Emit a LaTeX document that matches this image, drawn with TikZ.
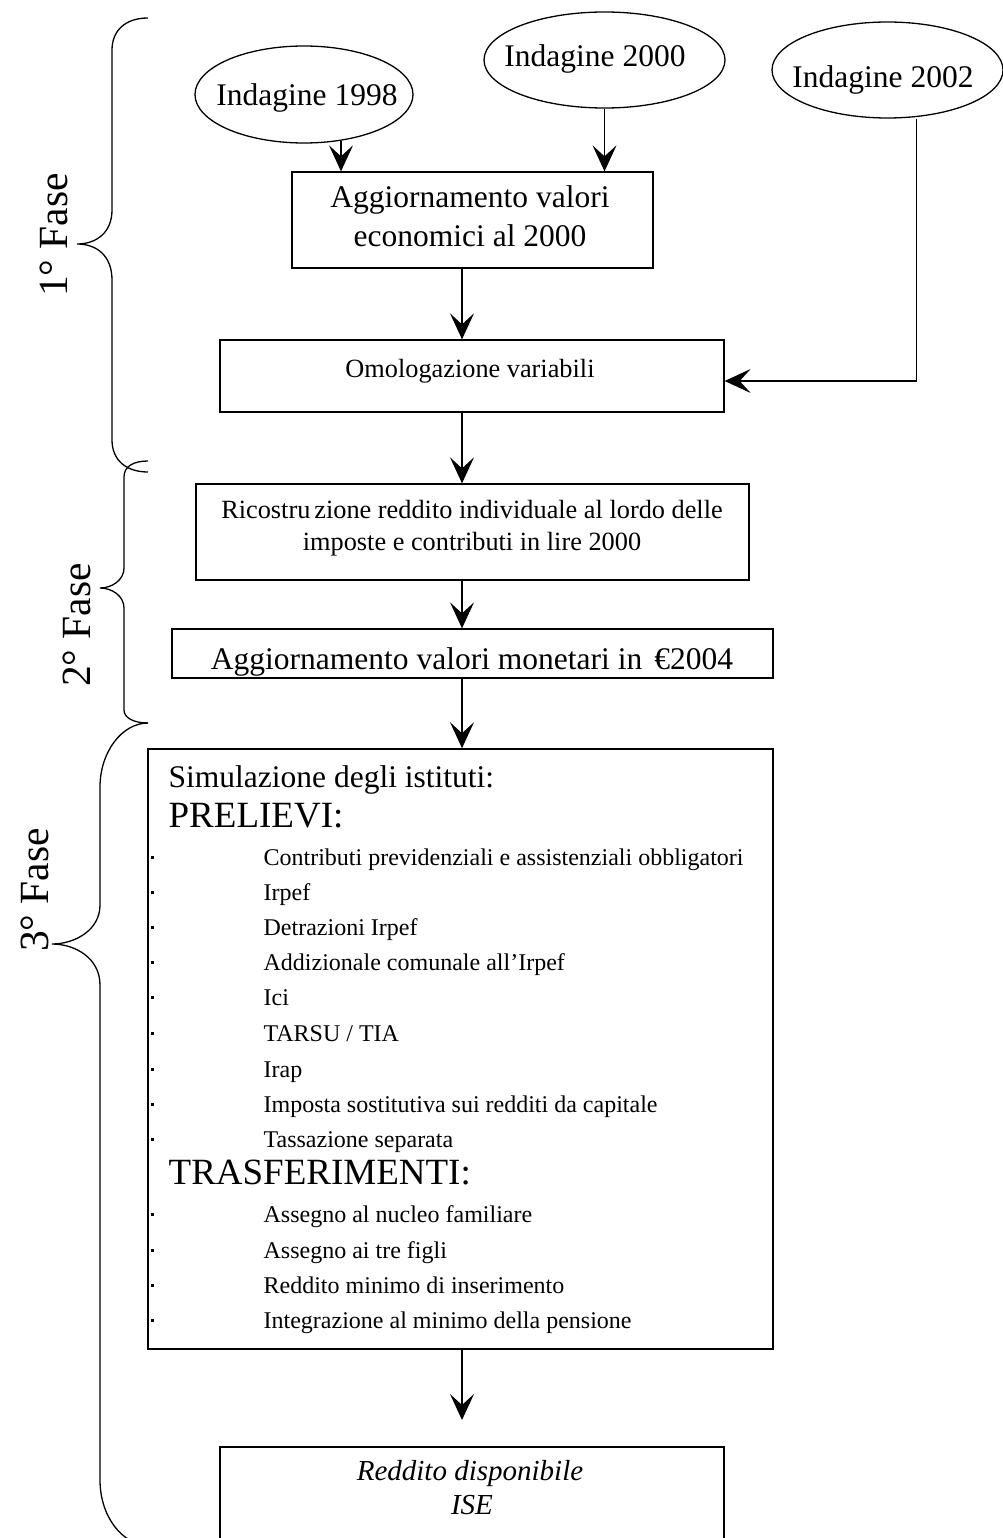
\documentclass[tikz,border=0pt]{standalone}
\usepackage{fontspec}
\setmainfont{Liberation Serif}
\usetikzlibrary{arrows.meta,shapes.geometric,calc}
\newcommand\itemdot[1]{\fill (151,{#1-9.5}) rectangle (153.5,{#1-6.5});}
\begin{document}
\begin{tikzpicture}[x=1pt,y=-1pt,
  line width=1.3pt,
  >={Stealth[length=26pt,width=24pt,inset=11pt]},
  survey/.style={draw,ellipse,inner sep=0pt},
  stepbox/.style={draw,rectangle,inner sep=0pt},
  lbl/.style={anchor=base,inner sep=0pt},
  lbw/.style={anchor=base west,inner sep=0pt},
  big/.style={font=\fontsize{31.5}{36}\selectfont},
  mid/.style={font=\fontsize{26.3}{30}\selectfont},
  small/.style={font=\fontsize{24}{28}\selectfont},
  huge/.style={font=\fontsize{37}{42}\selectfont},
  ital/.style={font=\fontsize{29}{33}\selectfont\itshape},
  phase/.style={anchor=base,inner sep=0pt,rotate=90,font=\fontsize{41.5}{46}\selectfont},
  brace/.style={line width=1.3pt}
]
\useasboundingbox (0,0) rectangle (1003,1538);

% ellipses
\node[survey,minimum width=218pt,minimum height=97pt] (e98) at (304,94.5) {};
\node[lbl,big] (t98) at (307,106) {Indagine 1998};
\node[survey,minimum width=241pt,minimum height=96pt] (e00) at (604.5,60) {};
\node[lbl,big] (t00) at (595,67) {Indagine 2000};
\node[survey,minimum width=231pt,minimum height=96pt] (e02) at (887.5,70) {};
\node[lbl,big] (t02) at (883,88) {Indagine 2002};

% boxes
\node[stepbox,minimum width=361pt,minimum height=96pt] (b1) at (472.5,220) {};
\node[lbl,big] (t1a) at (470,208) {Aggiornamento valori};
\node[lbl,big] (t1b) at (470,247) {economici al 2000};

\node[stepbox,minimum width=504pt,minimum height=72pt] (b2) at (472,376) {};
\node[lbl,mid] (t2) at (470,377) {Omologazione variabili};

\node[stepbox,minimum width=553pt,minimum height=96pt] (b3) at (472.5,532) {};
\node[lbl,mid] (t3a) at (472,518) {Ricostru\kern4pt zione reddito individuale al lordo delle};
\node[lbl,mid] (t3b) at (472,550) {imposte e contributi in lire 2000};

\node[stepbox,minimum width=601pt,minimum height=49pt] (b4) at (472.5,653.5) {};
\begin{scope}
\clip (b4.south west) rectangle (b4.north east);
\node[lbl,big] (t4) at (472,669) {Aggiornamento valori monetari in\hspace{12pt}€2004};
\end{scope}

\node[stepbox,line width=1.6pt,minimum width=625pt,minimum height=600pt] (b5) at (460.5,1049) {};
\node[lbw,big] (s0) at (168,787) {Simulazione degli istituti:};
\node[lbw,huge] (s1) at (168,827) {PRELIEVI:};
\node[lbw,small] (p1) at (263,865) {Contributi previdenziali e assistenziali obbligatori};
\node[lbw,small] (p2) at (263,900) {Irpef};
\node[lbw,small] (p3) at (263,935) {Detrazioni Irpef};
\node[lbw,small] (p4) at (263,970) {Addizionale comunale all’Irpef};
\node[lbw,small] (p5) at (263,1005) {Ici};
\node[lbw,small] (p6) at (263,1041) {TARSU / TIA};
\node[lbw,small] (p7) at (263,1077) {Irap};
\node[lbw,small] (p8) at (263,1112) {Imposta sostitutiva sui redditi da capitale};
\node[lbw,small] (p9) at (263,1147) {Tassazione separata};
\node[lbw,huge] (s2) at (168,1184) {TRASFERIMENTI:};
\node[lbw,small] (q1) at (263,1222) {Assegno al nucleo familiare};
\node[lbw,small] (q2) at (263,1258) {Assegno ai tre figli};
\node[lbw,small] (q3) at (263,1293) {Reddito minimo di inserimento};
\node[lbw,small] (q4) at (263,1328) {Integrazione al minimo della pensione};
\itemdot{865}\itemdot{900}\itemdot{935}\itemdot{970}\itemdot{1005}\itemdot{1041}
\itemdot{1077}\itemdot{1112}\itemdot{1147}
\itemdot{1222}\itemdot{1258}\itemdot{1293}\itemdot{1328}

\node[stepbox,minimum width=504pt,minimum height=116pt] (b6) at (472,1505) {};
\node[lbl,ital] (t6a) at (470,1480) {Reddito disponibile};
\node[lbl,ital] (t6b) at (472,1514) {ISE};

% connectors
\coordinate (spine) at (462,0);
\coordinate (a98) at ($(e98.south)+(37,-3)$);
\draw[->] (a98) -- (a98 |- b1.north);
\draw[->] (e00.south) -- (e00.south |- b1.north);
\draw[->] (b1.south -| spine) -- (b2.north -| spine);
\coordinate (a02) at ($(e02.south)+(29,0)$);
\coordinate (in2) at ($(b2.east)+(0,5)$);
\draw[->] (a02) |- (in2);
\draw[->] (b2.south -| spine) -- (b3.north -| spine);
\draw[->] (b3.south -| spine) -- (b4.north -| spine);
\draw[->] (b4.south -| spine) -- (b5.north -| spine);
\coordinate (end6) at (462,1420);
\draw[->] (b5.south -| spine) -- (end6);

% braces
\draw[brace] (148,18) .. controls (126,18) and (112,30) .. (112,50) -- (112,210)
  .. controls (112,232) and (97,244) .. (77,244)
  .. controls (97,244) and (112,256) .. (112,280) -- (112,440)
  .. controls (112,460) and (126,472) .. (148,472);
\draw[brace] (148,461) .. controls (134,461) and (124,466) .. (124,477) -- (124,568)
  .. controls (124,580) and (112,588) .. (100,588)
  .. controls (112,588) and (124,596) .. (124,608) -- (124,710)
  .. controls (124,718) and (134,723) .. (148,723);
\draw[brace] (148,723) .. controls (122,723) and (100,752) .. (100,787) -- (100,905)
  .. controls (100,930) and (75,944) .. (52,944)
  .. controls (75,944) and (100,958) .. (100,985) -- (100,1480)
  .. controls (100,1516) and (122,1545) .. (148,1545);

\node[phase] (f1) at (67,235) {1° Fase};
\node[phase] (f2) at (90,625) {2° Fase};
\node[phase] (f3) at (48,890) {3° Fase};
\end{tikzpicture}
\end{document}
